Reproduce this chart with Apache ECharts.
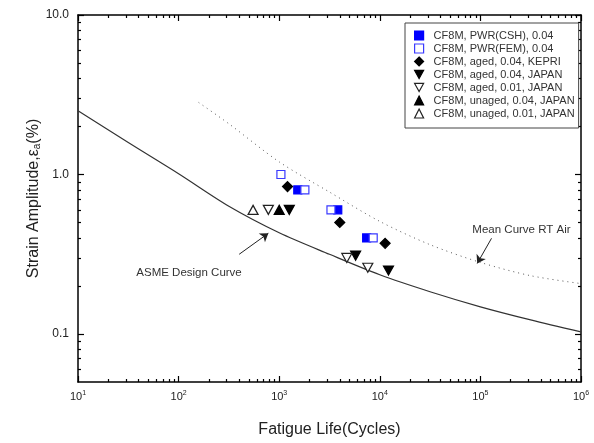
<!DOCTYPE html>
<html>
<head>
<meta charset="utf-8">
<script src="https://cdn.jsdelivr.net/npm/echarts@6/dist/echarts.min.js"></script>
<style>
  html, body { margin: 0; padding: 0; background: #fff; }
  #chart { width: 594px; height: 443px; }
</style>
</head>
<body>
<div id="chart"></div>
<script>
// test data [cycles, strain amplitude %]
const pwrCsh = [[1530, 0.80], [3820, 0.60], [7400, 0.40]];
const pwrFem = [[1040, 1.00], [1800, 0.80], [3270, 0.60], [8600, 0.40]];
const agedKepri = [[1210, 0.84], [4000, 0.50], [11300, 0.37]];
const aged04Japan = [[1260, 0.60], [5750, 0.31], [12200, 0.25]];
const aged01Japan = [[780, 0.60], [4700, 0.30], [7600, 0.26]];
const unaged04Japan = [[1000, 0.60]];
const unaged01Japan = [[550, 0.60]];

// curves (half decade steps)
const asmeCurve = [
  [10, 2.51], [31.6, 1.585], [100, 1.01], [316, 0.632], [1000, 0.431], [3160, 0.316],
  [10000, 0.235], [31600, 0.184], [100000, 0.148], [316000, 0.1225], [1000000, 0.103]
];
const meanCurve = [
  [158, 2.83], [316, 2.08], [1000, 1.20], [3160, 0.776], [10000, 0.508],
  [31600, 0.363], [100000, 0.281], [316000, 0.232], [1000000, 0.207]
];

// axis ticks
const xMajor = [10, 100, 1000, 10000, 100000, 1000000];
const yMajor = [0.1, 1, 10];
const yMinor = [0.06, 0.07, 0.08, 0.09, 0.2, 0.3, 0.4, 0.5, 0.6, 0.7, 0.8, 0.9, 2, 3, 4, 5, 6, 7, 8, 9];

// annotation anchors (data space)
const asmeArrow = [[400, 0.316], [780, 0.428]];
const asmeLabelAt = [127, 0.242];
const meanArrow = [[129000, 0.398], [93000, 0.277]];
const meanLabelAt = [256000, 0.449];

const FONT = "Liberation Sans, Arial, sans-serif";
const downTri = "path://M0,0L10,0L5,9Z";

const chart = echarts.init(document.getElementById("chart"));

const xBase = (position, showLabel) => ({
  type: "log",
  position,
  min: 10,
  max: 1000000,
  axisLine: { show: true, lineStyle: { color: "#000", width: 1.5 } },
  axisTick: { show: true, inside: true, length: 6, customValues: xMajor, lineStyle: { color: "#000", width: 1.2 } },
  minorTick: { show: true, splitNumber: 9, length: 3, lineStyle: { color: "#000", width: 1.2 } },
  splitLine: { show: false },
  axisLabel: {
    show: showLabel,
    customValues: xMajor,
    margin: 8,
    fontFamily: FONT,
    fontSize: 11,
    color: "#222",
    formatter: (v) => "10{sup|" + Math.round(Math.log10(v)) + "}",
    rich: { sup: { fontSize: 7, verticalAlign: "top", padding: [0, 0, 6, 0], fontFamily: FONT, color: "#222" } },
  },
});

const yBase = (position, showLabel) => ({
  type: "log",
  position,
  min: 0.05,
  max: 10,
  axisLine: { show: true, lineStyle: { color: "#000", width: 1.5 } },
  axisTick: { show: true, inside: true, length: 6, customValues: yMajor, lineStyle: { color: "#000", width: 1.2 } },
  splitLine: { show: false },
  axisLabel: {
    show: showLabel,
    customValues: yMajor,
    margin: 9,
    fontFamily: FONT,
    fontSize: 12,
    color: "#222",
    formatter: (v) => v.toFixed(1),
  },
});

const yMinorAxis = (position) => ({
  type: "log",
  position,
  min: 0.05,
  max: 10,
  axisLine: { show: false },
  axisTick: { show: true, inside: true, length: 3, customValues: yMinor, lineStyle: { color: "#000", width: 1.2 } },
  splitLine: { show: false },
  axisLabel: { show: false },
});

const scatter = (name, data, symbol, size, fill, border) => ({
  name,
  type: "scatter",
  data,
  symbol,
  symbolSize: size,
  z: 5,
  itemStyle: { color: fill, borderColor: border, borderWidth: 1.2, opacity: 1 },
});

const arrowLine = (from, to) => ({
  silent: true,
  symbol: ["none", "arrow"],
  symbolSize: 8,
  lineStyle: { color: "#222", type: "solid", width: 1 },
  label: { show: false },
  data: [[{ coord: from }, { coord: to }]],
});

const noteText = (text, at) => ({
  silent: true,
  symbolSize: 0,
  label: { show: true, position: "inside", formatter: text, fontFamily: FONT, fontSize: 11.5, color: "#333" },
  data: [{ coord: at }],
});

const option = {
  backgroundColor: "#fff",
  animation: false,
  textStyle: { fontFamily: FONT },
  grid: { left: 78, right: 13, top: 15, bottom: 61 },
  legend: {
    orient: "vertical",
    left: 405,
    top: 23,
    padding: [7, 4, 9, 9],
    itemWidth: 9,
    itemHeight: 9,
    itemGap: 2,
    itemStyle: { borderWidth: 1.2 },
    borderColor: "#444",
    borderWidth: 1,
    backgroundColor: "#fff",
    textStyle: { fontFamily: FONT, fontSize: 11, color: "#333", padding: [0, 0, 0, 5] },
    data: [
      "CF8M, PWR(CSH), 0.04",
      "CF8M, PWR(FEM), 0.04",
      "CF8M, aged, 0.04, KEPRI",
      "CF8M, aged, 0.04, JAPAN",
      "CF8M, aged, 0.01, JAPAN",
      "CF8M, unaged, 0.04, JAPAN",
      "CF8M, unaged, 0.01, JAPAN",
    ],
  },
  xAxis: [
    Object.assign(xBase("bottom", true), {
      name: "Fatigue Life(Cycles)",
      nameLocation: "middle",
      nameGap: 40,
      nameMoveOverlap: false,
      nameTextStyle: { fontFamily: FONT, fontSize: 16, color: "#222" },
    }),
    xBase("top", false),
  ],
  yAxis: [
    Object.assign(yBase("left", true), {
      name: "Strain Amplitude,ε{sub|a}(%)",
      nameLocation: "middle",
      nameGap: 36,
      nameMoveOverlap: false,
      nameTextStyle: {
        fontFamily: FONT,
        fontSize: 16,
        color: "#222",
        rich: { sub: { fontSize: 10, verticalAlign: "bottom", padding: [6, 0, 0, 0], fontFamily: FONT, color: "#222" } },
      },
    }),
    yBase("right", false),
    yMinorAxis("left"),
    yMinorAxis("right"),
  ],
  series: [
    {
      name: "ASME Design Curve",
      type: "line",
      data: asmeCurve,
      smooth: 0.3,
      showSymbol: false,
      lineStyle: { color: "#333", width: 1.2 },
      markLine: arrowLine(asmeArrow[0], asmeArrow[1]),
      markPoint: noteText("ASME Design Curve", asmeLabelAt),
    },
    {
      name: "Mean Curve RT Air",
      type: "line",
      data: meanCurve,
      smooth: 0.3,
      showSymbol: false,
      lineStyle: { color: "#555", width: 1, type: [1, 4] },
      markLine: arrowLine(meanArrow[0], meanArrow[1]),
      markPoint: noteText("Mean Curve RT Air", meanLabelAt),
    },
    scatter("CF8M, PWR(CSH), 0.04", pwrCsh, "rect", 8, "#0000ff", "#0000ff"),
    scatter("CF8M, PWR(FEM), 0.04", pwrFem, "rect", 8, "#fff", "#3a3aff"),
    scatter("CF8M, aged, 0.04, KEPRI", agedKepri, "diamond", 10, "#000", "#000"),
    scatter("CF8M, aged, 0.04, JAPAN", aged04Japan, downTri, [10, 9], "#000", "#000"),
    scatter("CF8M, aged, 0.01, JAPAN", aged01Japan, downTri, [10, 9], "#fff", "#222"),
    scatter("CF8M, unaged, 0.04, JAPAN", unaged04Japan, "triangle", [10, 9], "#000", "#000"),
    scatter("CF8M, unaged, 0.01, JAPAN", unaged01Japan, "triangle", [10, 9], "#fff", "#222"),
  ],
};

chart.setOption(option);
</script>
</body>
</html>
